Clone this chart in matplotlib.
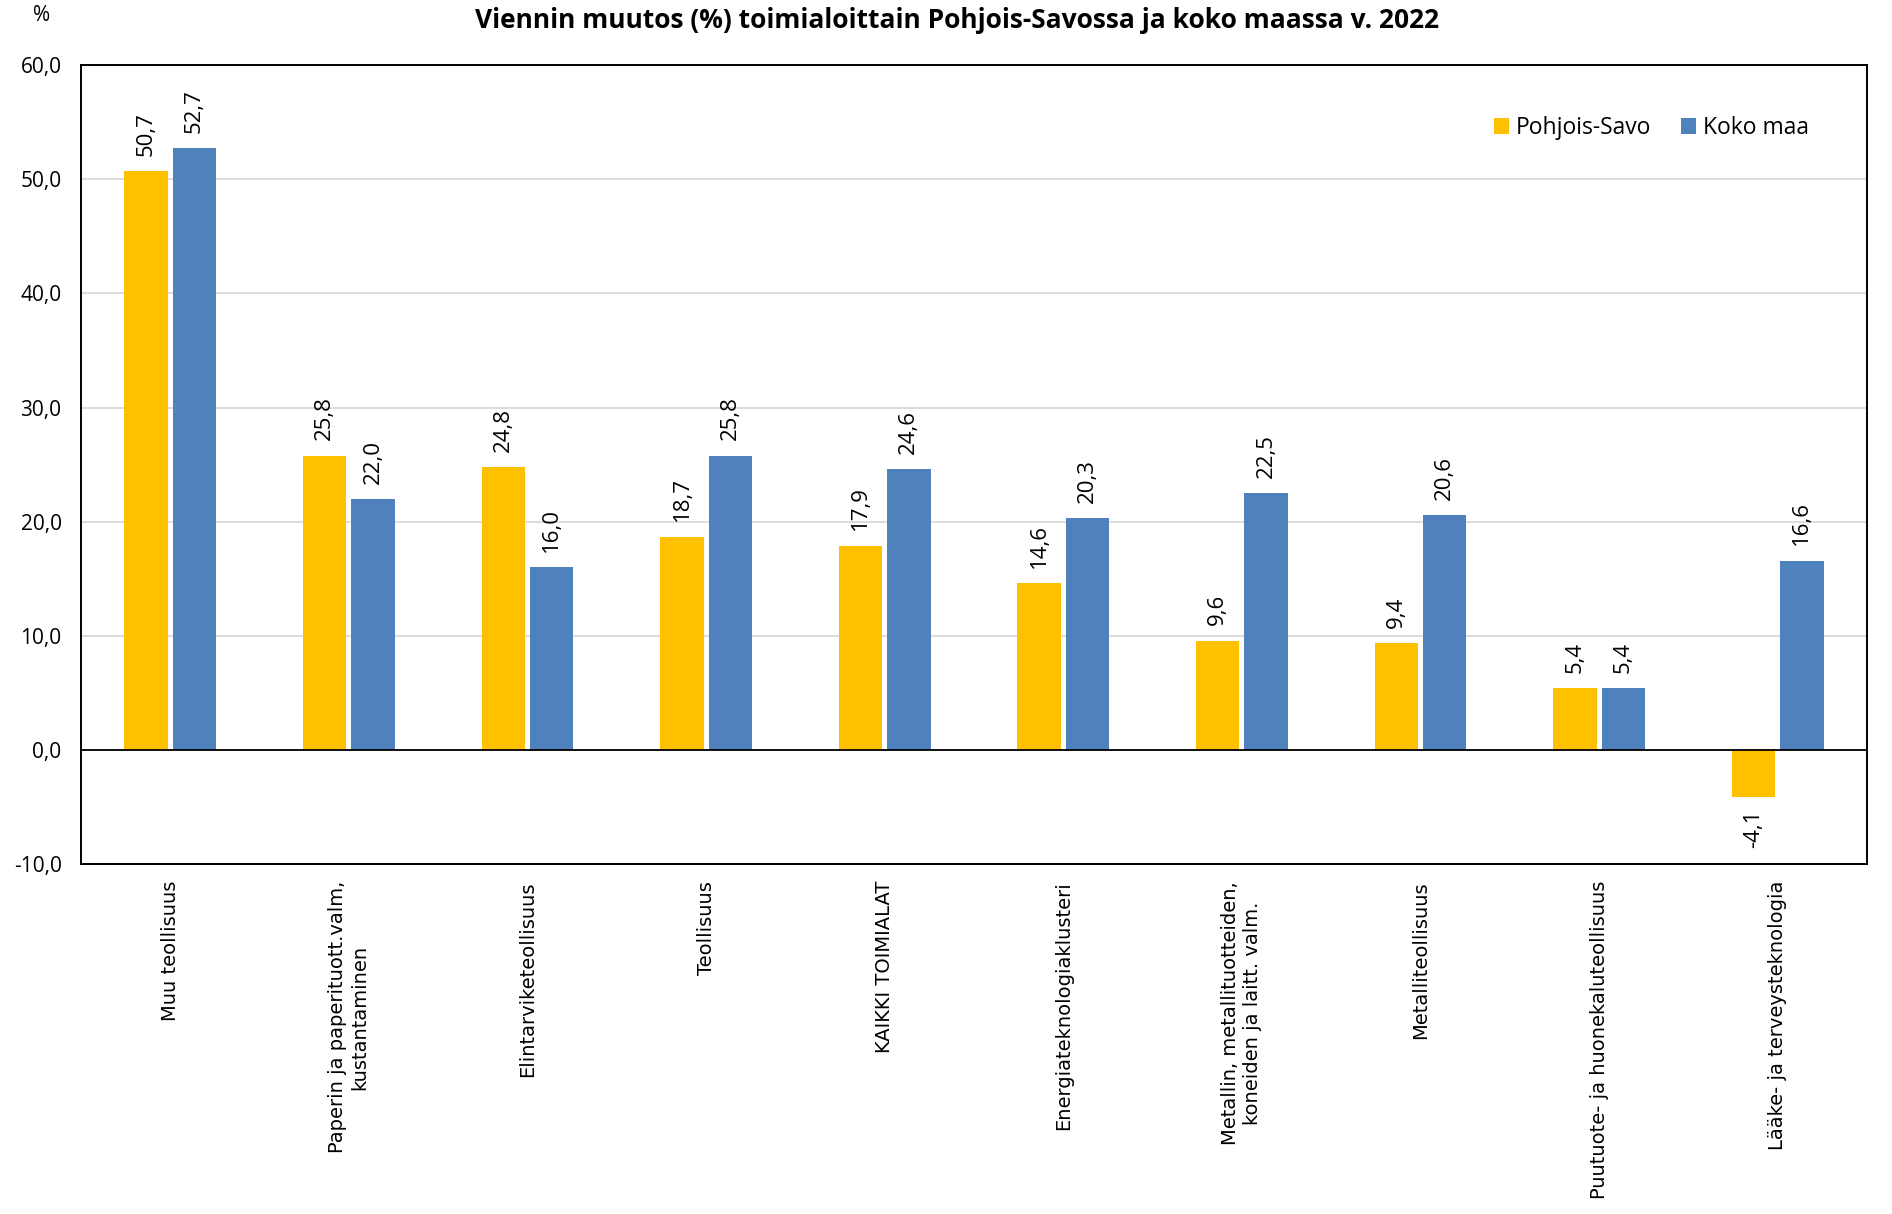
import numpy as np
import matplotlib
matplotlib.use("Agg")
import matplotlib.pyplot as plt

# data
categories = [
    "Muu teollisuus",
    "Paperin ja paperituott.valm,\nkustantaminen",
    "Elintarviketeollisuus",
    "Teollisuus",
    "KAIKKI TOIMIALAT",
    "Energiateknologiaklusteri",
    "Metallin, metallituotteiden,\nkoneiden ja laitt. valm.",
    "Metalliteollisuus",
    "Puutuote- ja huonekaluteollisuus",
    "Lääke- ja terveysteknologia",
]
pohjois_savo = [50.7, 25.8, 24.8, 18.7, 17.9, 14.6, 9.6, 9.4, 5.4, -4.1]
koko_maa = [52.7, 22.0, 16.0, 25.8, 24.6, 20.3, 22.5, 20.6, 5.4, 16.6]
y_ticks = [-10, 0, 10, 20, 30, 40, 50, 60]

YELLOW = "#FFC000"
BLUE = "#4F81BD"
FONT = "Open Sans"


def fmt(v):
    return f"{v:.1f}".replace(".", ",")


fig = plt.figure(figsize=(18.92, 12.14), dpi=100)
ax = fig.add_axes([0.0428, 0.288, 0.944, 0.6585])

x = np.arange(len(categories))
w = 0.243
off = 0.135
b1 = ax.bar(x - off, pohjois_savo, w, color=YELLOW, label="Pohjois-Savo", zorder=3)
b2 = ax.bar(x + off, koko_maa, w, color=BLUE, label="Koko maa", zorder=3)

# value labels, rotated like the original
for bars, vals in ((b1, pohjois_savo), (b2, koko_maa)):
    for bar, v in zip(bars, vals):
        cx = bar.get_x() + bar.get_width() / 2
        if v >= 0:
            ax.annotate(fmt(v), (cx, v), xytext=(0, 11), textcoords="offset points",
                        rotation=90, ha="center", va="bottom", fontsize=16, family=FONT)
        else:
            ax.annotate(fmt(v), (cx, v), xytext=(0, -9), textcoords="offset points",
                        rotation=90, ha="center", va="top", fontsize=16, family=FONT)

ax.set_xlim(-0.5, len(categories) - 0.5)
ax.set_ylim(-10, 60)
ax.set_yticks(y_ticks)
ax.set_yticklabels([fmt(t) for t in y_ticks], fontsize=15, family=FONT)
ax.tick_params(axis="y", length=0, pad=14)

ax.set_xticks(x)
ax.set_xticklabels(categories, rotation=90, ha="center", va="top",
                   multialignment="center", fontsize=14, family="DejaVu Sans")
ax.tick_params(axis="x", length=0, pad=12)

ax.grid(axis="y", color="#D9D9D9", linewidth=1.3, zorder=0)
ax.axhline(0, color="black", linewidth=1.3, zorder=4)
for s in ax.spines.values():
    s.set_color("black")
    s.set_linewidth(1.4)

leg = ax.legend(loc="upper right", bbox_to_anchor=(0.979, 0.962), ncol=2, frameon=False,
                prop={"family": FONT, "size": 16.5}, handlelength=0.65, handleheight=0.65,
                handletextpad=0.3, columnspacing=1.3)

fig.text(0.506, 0.983, "Viennin muutos (%) toimialoittain Pohjois-Savossa ja koko maassa v. 2022",
         ha="center", va="center", fontsize=19, fontweight="bold", family=FONT)
fig.text(0.022, 0.987, "%", ha="center", va="center", fontsize=15, family=FONT)

fig.savefig("out.png", dpi=100)
